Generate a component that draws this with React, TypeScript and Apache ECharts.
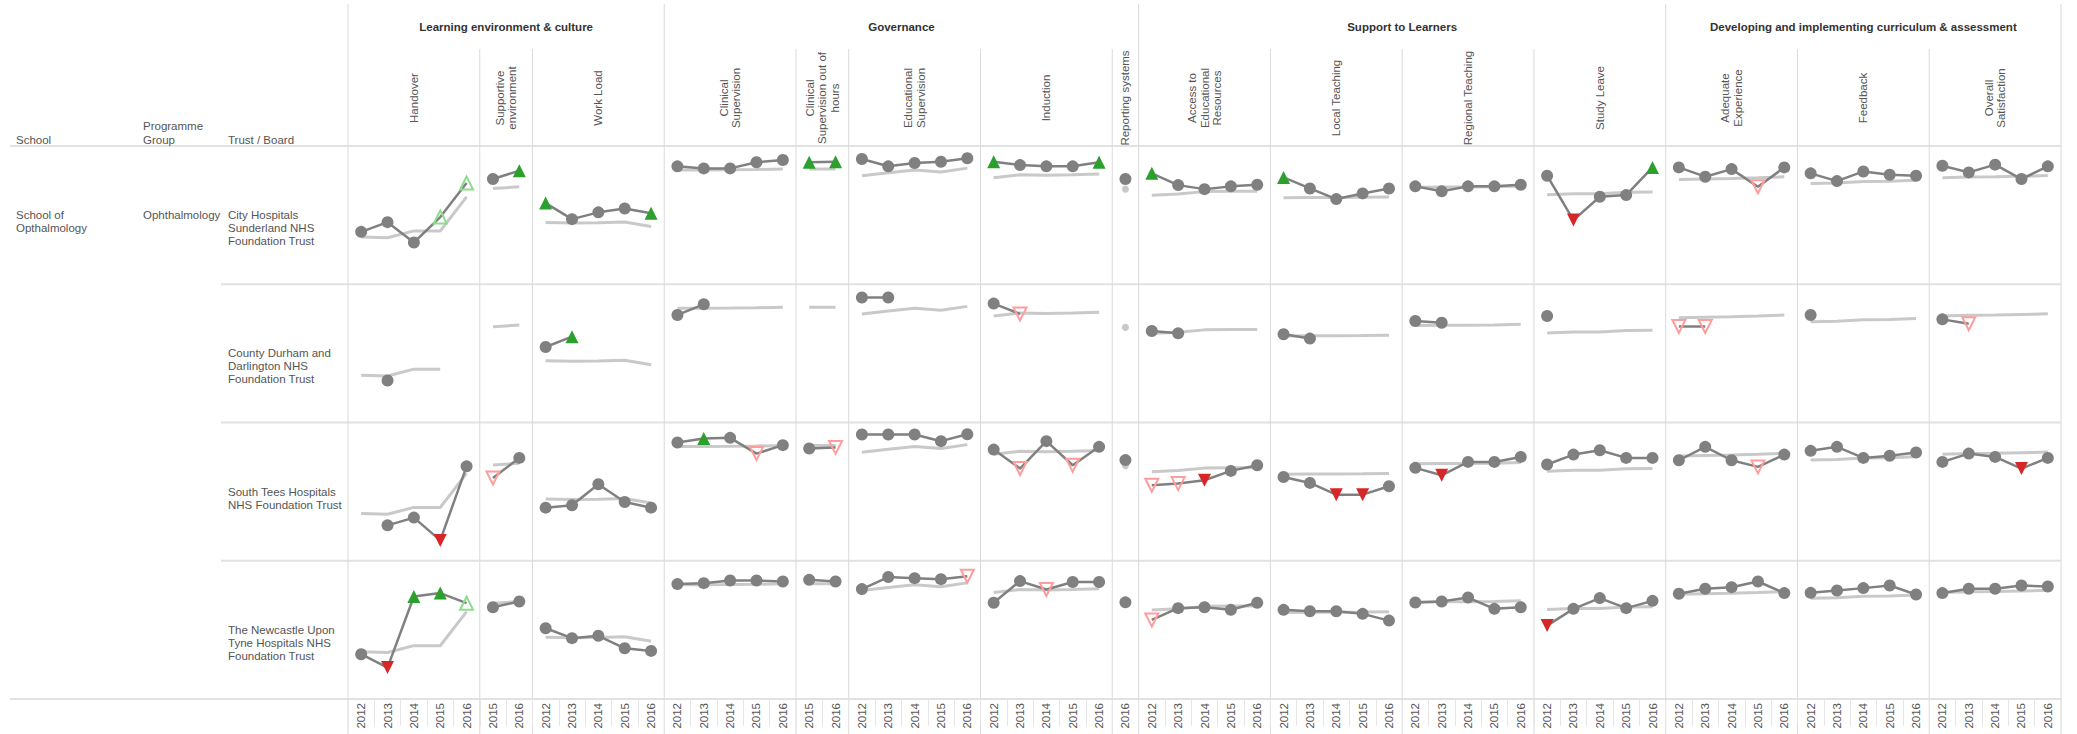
import React, { useEffect, useRef } from 'react';
import * as echarts from 'echarts';

// ---------- data ----------
const Y5 = ['2012', '2013', '2014', '2015', '2016'];
const Y2 = ['2015', '2016'];
const Y1 = ['2016'];

const groups = [
  'Learning environment & culture',
  'Governance',
  'Support to Learners',
  'Developing and implementing curriculum & assessment',
];
const groupSizes = [3, 5, 4, 3];

const indicators = [
  'Handover',
  'Supportive\nenvironment',
  'Work Load',
  'Clinical\nSupervision',
  'Clinical\nSupervision out of\nhours',
  'Educational\nSupervision',
  'Induction',
  'Reporting systems',
  'Access to\nEducational\nResources',
  'Local Teaching',
  'Regional Teaching',
  'Study Leave',
  'Adequate\nExperience',
  'Feedback',
  'Overall\nSatisfaction',
];
const indicatorYears = [Y5, Y2, Y5, Y5, Y2, Y5, Y5, Y1, Y5, Y5, Y5, Y5, Y5, Y5, Y5];

const schoolName = 'School of\nOpthalmology';
const programmeName = 'Ophthalmology';
const trusts = [
  'City Hospitals\nSunderland NHS\nFoundation Trust',
  'County Durham and\nDarlington NHS\nFoundation Trust',
  'South Tees Hospitals\nNHS Foundation Trust',
  'The Newcastle Upon\nTyne Hospitals NHS\nFoundation Trust',
];

// national mean per indicator (light grey line)
const national = [
  [34.2, 33.6, 38.6, 38.5, 63.2],
  [69.2, 70.5],
  [44.6, 44.3, 44.4, 45.1, 41.8],
  [82.7, 82.7, 82.8, 83.0, 83.4],
  [83.3, 83.3],
  [78.4, 80.6, 82.6, 81.2, 84.0],
  [77.0, 79.2, 78.8, 79.2, 79.8],
  [68.8],
  [64.3, 65.2, 67.0, 67.2, 67.3],
  [62.6, 62.7, 62.8, 62.9, 63.2],
  [70.2, 70.3, 70.4, 70.6, 71.0],
  [64.8, 65.4, 65.5, 66.5, 66.8],
  [75.8, 76.2, 76.5, 77.0, 77.7],
  [72.8, 73.3, 74.3, 74.5, 75.3],
  [77.0, 77.5, 77.8, 78.2, 78.6],
];
// [trust row, indicator, year] where the national line is not drawn
const nationalHidden = [[1, 0, '2016']];

const N = null;
// trust scores per indicator
const sunderland = [
  [37.9, 44.9, 30.2, 48.6, 73.2],
  [76.1, 82.1],
  [58.7, 47.1, 52.0, 54.8, 51.4],
  [85.3, 83.8, 83.8, 88.2, 89.9],
  [88.2, 88.6],
  [90.6, 85.3, 87.7, 88.6, 91.1],
  [88.6, 86.2, 85.3, 85.3, 88.2],
  [76.1],
  [80.2, 71.7, 68.8, 70.8, 72.0],
  [77.3, 69.3, 61.6, 65.7, 69.3],
  [70.8, 67.2, 70.8, 70.8, 72.0],
  [78.5, 46.4, 63.3, 64.5, 84.5],
  [84.5, 77.8, 83.3, 70.5, 84.5],
  [80.2, 74.6, 81.6, 79.2, 78.5],
  [85.7, 80.9, 86.5, 76.1, 85.3],
];
const durham = [
  [N, 30.4, N, N, N],
  [N, N],
  [54.6, 62.1, N, N, N],
  [77.8, 85.5, N, N, N],
  [N, N],
  [90.4, 90.4, N, N, N],
  [86.0, 78.5, N, N, N],
  [N],
  [66.2, 64.5, N, N, N],
  [63.8, 60.7, N, N, N],
  [73.4, 72.2, N, N, N],
  [77.0, N, N, N, N],
  [69.4, 69.4, N, N, N],
  [77.8, N, N, N, N],
  [74.6, 71.5, N, N, N],
];
const southTees = [
  [N, 25.6, 31.2, 14.7, 68.3],
  [59.9, 74.4],
  [38.4, 40.1, 55.3, 42.5, 38.4],
  [85.5, 88.4, 88.9, 77.5, 83.6],
  [81.2, 82.0],
  [91.3, 91.3, 91.3, 86.5, 91.5],
  [80.4, 66.7, 86.5, 69.1, 82.4],
  [72.8],
  [54.6, 55.8, 58.2, 65.0, 69.1],
  [60.6, 56.3, 47.8, 47.8, 53.9],
  [67.2, 61.8, 71.5, 71.5, 75.1],
  [69.6, 76.8, 79.9, 74.4, 74.4],
  [72.7, 82.4, 72.7, 67.9, 76.8],
  [79.5, 82.4, 74.4, 75.9, 78.3],
  [71.5, 77.5, 75.1, 66.7, 74.4],
];
const newcastle = [
  [32.4, 22.7, 74.1, 76.6, 69.3],
  [66.4, 70.5],
  [51.2, 44.0, 45.7, 36.7, 34.8],
  [83.1, 83.8, 85.7, 85.7, 85.0],
  [86.2, 85.0],
  [79.5, 88.2, 87.4, 86.7, 88.8],
  [69.6, 85.3, 79.2, 84.6, 84.6],
  [69.9],
  [57.2, 65.7, 66.4, 64.5, 69.6],
  [64.5, 63.5, 63.5, 61.6, 56.7],
  [69.8, 70.5, 73.4, 65.2, 66.4],
  [53.1, 65.2, 73.0, 65.7, 71.0],
  [76.1, 79.7, 80.9, 85.0, 76.6],
  [76.8, 78.5, 80.2, 82.1, 75.6],
  [76.6, 79.7, 79.7, 82.1, 81.4],
];
const trustValues = [sunderland, durham, southTees, newcastle];

// o = in line, G = significantly above, g = above, R = significantly below, r = below
const trustFlags = [
  ['ooogg', 'oG', 'GoooG', 'ooooo', 'GG', 'ooooo', 'GoooG', 'o', 'Goooo', 'Goooo', 'ooooo', 'oRooG', 'oooro', 'ooooo', 'ooooo'],
  ['-o---', '--', 'oG---', 'oo---', '--', 'oo---', 'or---', '-', 'oo---', 'oo---', 'oo---', 'o----', 'rr---', 'o----', 'or---'],
  ['-ooRo', 'ro', 'ooooo', 'oGoro', 'or', 'ooooo', 'ororo', 'o', 'rrRoo', 'ooRRo', 'oRooo', 'ooooo', 'oooro', 'ooooo', 'oooRo'],
  ['oRGGg', 'oo', 'ooooo', 'ooooo', 'oo', 'oooor', 'ooroo', 'o', 'roooo', 'ooooo', 'ooooo', 'Roooo', 'ooooo', 'ooooo', 'ooooo'],
];

// ---------- styling ----------
const FONT = '"Liberation Sans", Arial, sans-serif';
const TRUST_GREY = '#808080';
const NAT_GREY = '#c9c9c9';
const GREEN = '#2ca02c';
const RED = '#d62728';
const LIGHT_GREEN = '#8fdc8f';
const LIGHT_RED = '#ff9c9c';

function markerItem(v: number | null, f: string) {
  if (v === null) return null;
  const tri = 13;
  switch (f) {
    case 'G':
      return { value: v, symbol: 'triangle', symbolSize: tri, itemStyle: { color: GREEN } };
    case 'g':
      return {
        value: v, symbol: 'triangle', symbolSize: tri,
        itemStyle: { color: 'rgba(255,255,255,0)', borderColor: LIGHT_GREEN, borderWidth: 2 },
      };
    case 'R':
      return { value: v, symbol: 'triangle', symbolRotate: 180, symbolSize: tri, itemStyle: { color: RED } };
    case 'r':
      return {
        value: v, symbol: 'triangle', symbolRotate: 180, symbolSize: tri,
        itemStyle: { color: 'rgba(255,255,255,0)', borderColor: LIGHT_RED, borderWidth: 2 },
      };
    default:
      return v;
  }
}

function buildOption() {
  const L = 348;
  const R = 2061;
  const totalSlots = indicatorYears.reduce((s, y) => s + y.length, 0);
  const SLOT = (R - L) / totalSlots;
  const HEAD = 146;
  const BOTTOM = 699;
  const ROWH = (BOTTOM - HEAD) / trusts.length;

  const slotStart: number[] = [];
  let acc = 0;
  indicatorYears.forEach((y) => {
    slotStart.push(acc);
    acc += y.length;
  });

  const grid: any[] = [];
  const xAxis: any[] = [];
  const yAxis: any[] = [];
  const series: any[] = [];

  trusts.forEach((_, r) => {
    indicators.forEach((__, c) => {
      const idx = grid.length;
      const years = indicatorYears[c];
      grid.push({
        left: L + slotStart[c] * SLOT,
        top: HEAD + r * ROWH,
        width: years.length * SLOT,
        height: ROWH,
      });
      const last = r === trusts.length - 1;
      xAxis.push({
        gridIndex: idx,
        type: 'category',
        data: years,
        boundaryGap: true,
        show: last,
        axisLine: { show: false },
        axisTick: { show: true, length: 27, lineStyle: { color: '#e6e6e6', width: 1 } },
        axisLabel: { rotate: 90, interval: 0, fontSize: 11.5, fontFamily: FONT, color: '#555', margin: 4 },
        splitLine: { show: false },
      });
      yAxis.push({ gridIndex: idx, type: 'value', min: 0, max: 100, show: false });

      const natData = national[c].map((v, k) =>
        nationalHidden.some((h) => h[0] === r && h[1] === c && h[2] === years[k]) ? null : v
      );
      const natCount = natData.filter((v) => v !== null).length;
      series.push({
        type: 'line',
        xAxisIndex: idx,
        yAxisIndex: idx,
        data: natData,
        showSymbol: natCount === 1,
        symbol: 'circle',
        symbolSize: 7,
        itemStyle: { color: NAT_GREY },
        lineStyle: { color: NAT_GREY, width: 3 },
        z: 2,
        silent: true,
      });

      const vals = trustValues[r][c];
      const flags = trustFlags[r][c];
      series.push({
        type: 'line',
        xAxisIndex: idx,
        yAxisIndex: idx,
        data: vals.map((v, k) => markerItem(v, flags[k])),
        showSymbol: true,
        showAllSymbol: true,
        symbol: 'circle',
        symbolSize: 12,
        connectNulls: false,
        itemStyle: { color: TRUST_GREY },
        lineStyle: { color: TRUST_GREY, width: 2.5 },
        z: 3,
        silent: true,
      });
    });
  });

  // ---------- graphic: rules and headers ----------
  const g: any[] = [];
  const ruleH = '#e2e2e2';
  const ruleV = '#dadada';
  const hline = (x1: number, x2: number, y: number, w = 1.5) =>
    g.push({ type: 'line', shape: { x1, y1: y, x2, y2: y }, style: { stroke: ruleH, lineWidth: w }, z: 0, silent: true });
  const vline = (x: number, y1: number, y2: number) =>
    g.push({ type: 'line', shape: { x1: x, y1, x2: x, y2 }, style: { stroke: ruleV, lineWidth: 1 }, z: 0, silent: true });

  hline(10, R, HEAD, 2);
  for (let r = 1; r < trusts.length; r++) hline(221, R, HEAD + r * ROWH, 2);
  hline(10, R, BOTTOM, 2);

  // group boundaries (indicator indices)
  const groupStarts: number[] = [];
  let gi = 0;
  groupSizes.forEach((s) => {
    groupStarts.push(gi);
    gi += s;
  });
  const boundaries = [...slotStart, totalSlots];
  const groupBoundaryIdx = [...groupStarts, indicators.length];
  boundaries.forEach((s, i) => {
    const isGroup = groupBoundaryIdx.includes(i);
    vline(L + s * SLOT, isGroup ? 4 : 49, 734);
  });

  const text = (t: string, x: number, y: number, opts: any = {}) =>
    g.push({
      type: 'text',
      x,
      y,
      rotation: opts.rotation || 0,
      silent: true,
      z: 5,
      style: {
        text: t,
        fill: opts.fill || '#555',
        font: `${opts.weight || 'normal'} ${opts.size || 11.5}px ${FONT}`,
        align: opts.align || 'left',
        verticalAlign: opts.va || 'middle',
        lineHeight: opts.lh || 13,
      },
    });

  // group titles
  groups.forEach((name, k) => {
    const s0 = slotStart[groupStarts[k]];
    const endIdx = groupStarts[k] + groupSizes[k];
    const s1 = endIdx < indicators.length ? slotStart[endIdx] : totalSlots;
    text(name, L + ((s0 + s1) / 2) * SLOT, 27, { align: 'center', weight: 'bold', fill: '#333' });
  });

  // indicator titles (rotated)
  indicators.forEach((name, c) => {
    const cx = L + (slotStart[c] + indicatorYears[c].length / 2) * SLOT;
    text(name, cx, 98, { align: 'center', rotation: Math.PI / 2, lh: 12.5 });
  });

  // row header titles
  text('School', 16, 140);
  text('Programme\nGroup', 143, 133, { lh: 14 });
  text('Trust / Board', 228, 140);

  // row labels
  text(schoolName, 16, HEAD + ROWH / 2 - 6.5, { va: 'top' });
  text(programmeName, 143, HEAD + ROWH / 2 - 6.5, { va: 'top' });
  trusts.forEach((t, r) => {
    text(t, 228, HEAD + r * ROWH + ROWH / 2 - 6.5, { va: 'top' });
  });

  return {
    animation: false,
    backgroundColor: '#ffffff',
    grid,
    xAxis,
    yAxis,
    series,
    graphic: g,
  };
}

export default function App() {
  const ref = useRef<HTMLDivElement>(null);
  useEffect(() => {
    if (!ref.current) return;
    const chart = echarts.init(ref.current, undefined, { renderer: 'svg' });
    chart.setOption(buildOption());
    return () => chart.dispose();
  }, []);
  return (
    <div
      ref={ref}
      style={{ position: 'fixed', left: 0, top: 0, width: 2077, height: 734, background: '#fff' }}
    />
  );
}
